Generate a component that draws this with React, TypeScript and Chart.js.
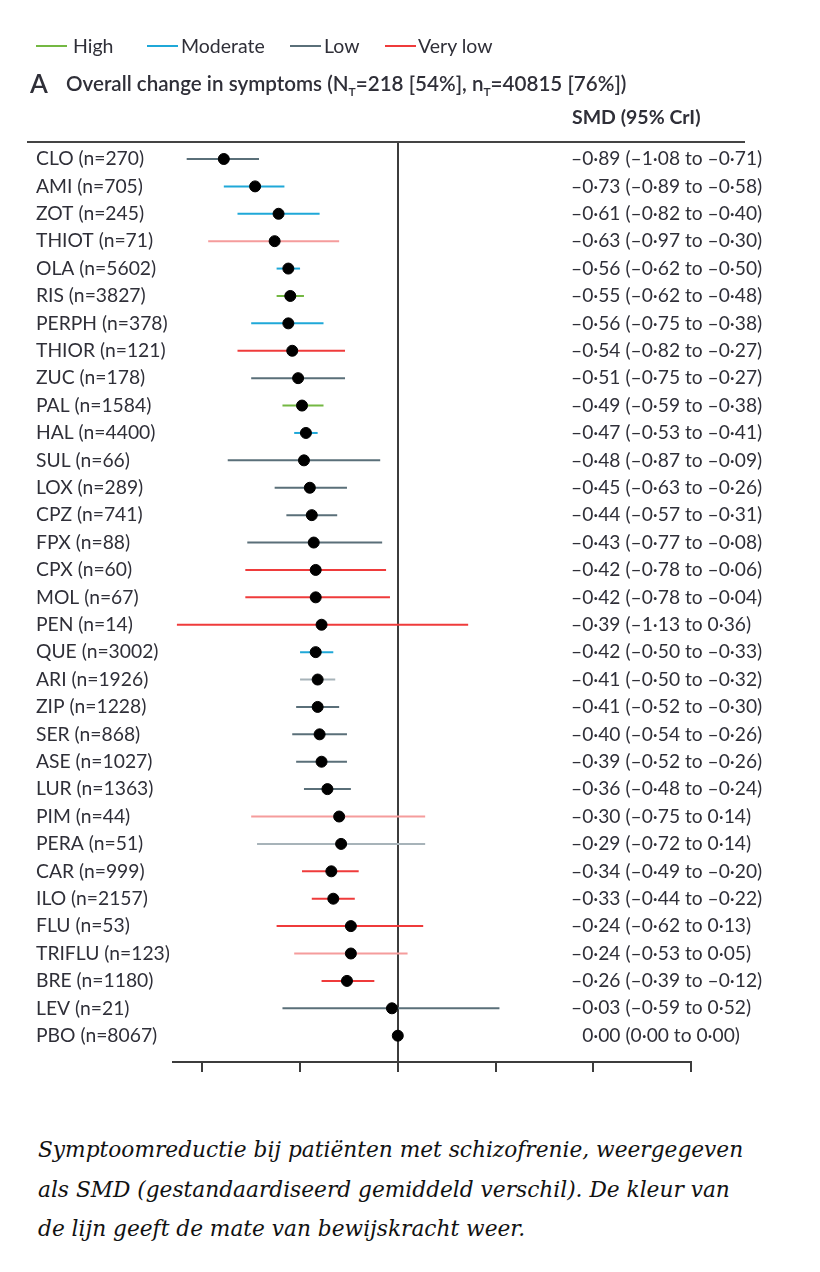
import React, { useEffect, useRef } from "react";
import { Chart, registerables } from "chart.js";

Chart.register(...registerables);

const rowLabels = [
  "CLO (n=270)", "AMI (n=705)", "ZOT (n=245)", "THIOT (n=71)", "OLA (n=5602)",
  "RIS (n=3827)", "PERPH (n=378)", "THIOR (n=121)", "ZUC (n=178)", "PAL (n=1584)",
  "HAL (n=4400)", "SUL (n=66)", "LOX (n=289)", "CPZ (n=741)", "FPX (n=88)",
  "CPX (n=60)", "MOL (n=67)", "PEN (n=14)", "QUE (n=3002)", "ARI (n=1926)",
  "ZIP (n=1228)", "SER (n=868)", "ASE (n=1027)", "LUR (n=1363)", "PIM (n=44)",
  "PERA (n=51)", "CAR (n=999)", "ILO (n=2157)", "FLU (n=53)", "TRIFLU (n=123)",
  "BRE (n=1180)", "LEV (n=21)", "PBO (n=8067)",
];

const smd = [
  -0.89, -0.73, -0.61, -0.63, -0.56, -0.55, -0.56, -0.54, -0.51, -0.49,
  -0.47, -0.48, -0.45, -0.44, -0.43, -0.42, -0.42, -0.39, -0.42, -0.41,
  -0.41, -0.40, -0.39, -0.36, -0.30, -0.29, -0.34, -0.33, -0.24, -0.24,
  -0.26, -0.03, 0.0,
];

const ciLow = [
  -1.08, -0.89, -0.82, -0.97, -0.62, -0.62, -0.75, -0.82, -0.75, -0.59,
  -0.53, -0.87, -0.63, -0.57, -0.77, -0.78, -0.78, -1.13, -0.50, -0.50,
  -0.52, -0.54, -0.52, -0.48, -0.75, -0.72, -0.49, -0.44, -0.62, -0.53,
  -0.39, -0.59, 0.0,
];

const ciHigh = [
  -0.71, -0.58, -0.40, -0.30, -0.50, -0.48, -0.38, -0.27, -0.27, -0.38,
  -0.41, -0.09, -0.26, -0.31, -0.08, -0.06, -0.04, 0.36, -0.33, -0.32,
  -0.30, -0.26, -0.26, -0.24, 0.14, 0.14, -0.20, -0.22, 0.13, 0.05,
  -0.12, 0.52, 0.0,
];

// evidence quality per row: H high, M moderate, L low, V very low; "l" suffix = lighter shade
const quality = [
  "L", "M", "M", "Vl", "M", "H", "M", "V", "L", "H",
  "M", "L", "L", "L", "L", "V", "V", "V", "M", "Ll",
  "L", "L", "L", "L", "Vl", "Ll", "V", "V", "V", "Vl",
  "V", "L", "",
];

const legendNames = ["High", "Moderate", "Low", "Very low"];
const legendKeys = ["H", "M", "L", "V"];

const qualityColors: Record<string, string> = {
  H: "#74b843",
  M: "#1fa8d8",
  L: "#5a6f79",
  V: "#ef3b3b",
  Vl: "#f59c9c",
  Ll: "#a7b3b9",
};

const xTicksStep = 0.5;

const fmt = (v: number) =>
  (v < 0 ? "\u2013" : "") + Math.abs(v).toFixed(2).replace(".", "\u00b7");

const ciText = smd.map(
  (v, i) => `${fmt(v)} (${fmt(ciLow[i])} to ${fmt(ciHigh[i])})`
);

const FONT = "Lato, 'Open Sans', sans-serif";
const TEXT = "#2f2f38";

export default function App() {
  const ref = useRef<HTMLCanvasElement>(null);

  useEffect(() => {
    if (!ref.current) return;
    const lineSets = smd
      .map((_, i) => i)
      .filter((i) => quality[i] !== "")
      .map((i) => ({
        type: "scatter" as const,
        data: [
          { x: ciLow[i], y: i },
          { x: ciHigh[i], y: i },
        ],
        showLine: true,
        borderColor: qualityColors[quality[i]],
        borderWidth: 2,
        pointRadius: 0,
        order: 2,
      }));

    const extra = {
      id: "forestExtras",
      afterDraw(chart: any) {
        const { ctx, scales } = chart;
        const y = scales.y;
        ctx.save();
        // top rule
        ctx.strokeStyle = "#444";
        ctx.lineWidth = 2;
        ctx.beginPath();
        ctx.moveTo(27, 142);
        ctx.lineTo(745, 142);
        ctx.stroke();
        // right column
        ctx.font = `19.2px ${FONT}`;
        ctx.fillStyle = TEXT;
        ctx.textBaseline = "middle";
        ctx.textAlign = "left";
        const dash = ctx.measureText("\u2013").width;
        ciText.forEach((t, i) => {
          const x = smd[i] < 0 ? 571 : 571 + dash;
          ctx.fillText(t, x, y.getPixelForValue(i));
        });
        ctx.restore();
      },
    };

    const chart = new Chart(ref.current, {
      type: "scatter",
      data: {
        datasets: [
          {
            type: "scatter",
            data: smd.map((v, i) => ({ x: v, y: i })),
            backgroundColor: "#000",
            borderColor: "#000",
            pointRadius: 5.5,
            order: 0,
          },
          ...lineSets,
        ],
      },
      options: {
        responsive: false,
        animation: false,
        events: [],
        layout: { padding: { left: 36, right: 129, top: 142, bottom: 26 } },
        plugins: { legend: { display: false }, tooltip: { enabled: false } },
        scales: {
          x: {
            type: "linear",
            position: "bottom",
            min: -1.15,
            max: 1.5,
            afterFit: (s: any) => {
              s.height = 12;
            },
            ticks: { stepSize: xTicksStep, includeBounds: false, display: false },
            grid: {
              color: (c: any) =>
                c.tick && Math.abs(c.tick.value) < 1e-9 ? "#3c3c3c" : "rgba(0,0,0,0)",
              tickColor: "#3c3c3c",
              lineWidth: 2,
              tickLength: 10,
              drawOnChartArea: true,
            },
            border: { display: true, color: "#3c3c3c", width: 2 },
          },
          y: {
            type: "linear",
            position: "left",
            reverse: true,
            min: -0.62,
            max: 32.96,
            afterFit: (s: any) => {
              s.width = 137;
            },
            afterBuildTicks: (s: any) => {
              s.ticks = rowLabels.map((_, i) => ({ value: i }));
            },
            ticks: {
              autoSkip: false,
              crossAlign: "far",
              padding: 0,
              color: TEXT,
              font: { family: FONT, size: 19.3 },
              callback: (v: any) => rowLabels[v as number] ?? "",
            },
            grid: { display: false },
            border: { display: false },
          },
        },
      },
      plugins: [extra],
    } as any);
    return () => chart.destroy();
  }, []);

  const legendPos = [
    { line: 36, text: 73 },
    { line: 147, text: 181 },
    { line: 290, text: 324 },
    { line: 385, text: 418 },
  ];

  return (
    <div
      style={{
        position: "absolute",
        left: 0,
        top: 0,
        width: 820,
        height: 1272,
        background: "#fff",
        fontFamily: FONT,
        color: TEXT,
      }}
    >
      <canvas
        ref={ref}
        width={820}
        height={1100}
        style={{ position: "absolute", left: 0, top: 0, width: 820, height: 1100 }}
      />
      {legendNames.map((n, i) => (
        <React.Fragment key={n}>
          <div
            style={{
              position: "absolute",
              left: legendPos[i].line,
              top: 45,
              width: 31,
              height: 2,
              background: qualityColors[legendKeys[i]],
            }}
          />
          <div
            style={{
              position: "absolute",
              left: legendPos[i].text,
              top: 33,
              fontSize: 19.5,
              lineHeight: "26px",
              whiteSpace: "nowrap",
            }}
          >
            {n}
          </div>
        </React.Fragment>
      ))}
      <div
        style={{
          position: "absolute",
          left: 30,
          top: 67,
          fontSize: 26,
          lineHeight: "32px",
          fontWeight: 600,
        }}
      >
        A
      </div>
      <div
        style={{
          position: "absolute",
          left: 66,
          top: 69,
          fontSize: 20.6,
          lineHeight: "28px",
          fontWeight: 600,
          whiteSpace: "nowrap",
        }}
      >
        Overall change in symptoms (N<sub style={{ fontSize: 12 }}>T</sub>=218 [54%], n
        <sub style={{ fontSize: 12 }}>T</sub>=40815 [76%])
      </div>
      <div
        style={{
          position: "absolute",
          left: 572,
          top: 104,
          fontSize: 19.5,
          lineHeight: "26px",
          fontWeight: 700,
          whiteSpace: "nowrap",
        }}
      >
        SMD (95% CrI)
      </div>
      <div
        style={{
          position: "absolute",
          left: 38,
          top: 1130,
          width: 790,
          fontFamily: "'DejaVu Serif', serif",
          fontStyle: "italic",
          fontSize: 21.7,
          lineHeight: "39.5px",
          color: "#111",
          whiteSpace: "nowrap",
        }}
      >
        Symptoomreductie bij patiënten met schizofrenie, weergegeven
        <br />
        als SMD (gestandaardiseerd gemiddeld verschil). De kleur van
        <br />
        de lijn geeft de mate van bewijskracht weer.
      </div>
    </div>
  );
}
